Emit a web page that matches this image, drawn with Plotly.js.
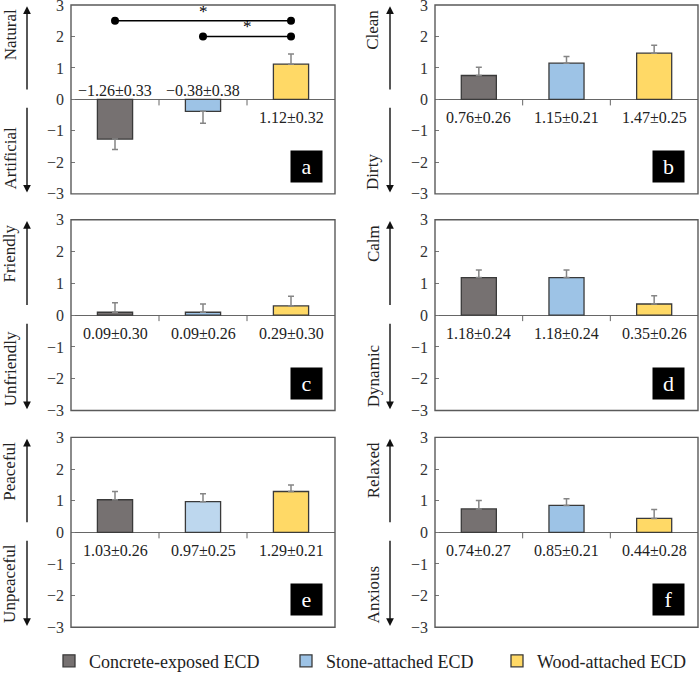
<!DOCTYPE html>
<html>
<head>
<meta charset="utf-8">
<script src="https://cdn.plot.ly/plotly-3.0.1.min.js"></script>
<style>html,body{margin:0;padding:0;background:#fff;}#chart{width:700px;height:680px;}</style>
</head>
<body>
<div id="chart"></div>
<script>
// ---- data ----
var groups = ['Concrete-exposed ECD', 'Stone-attached ECD', 'Wood-attached ECD'];
var panelLetters = ['a', 'b', 'c', 'd', 'e', 'f'];
var posLabels = ['Natural', 'Clean', 'Friendly', 'Calm', 'Peaceful', 'Relaxed'];
var negLabels = ['Artificial', 'Dirty', 'Unfriendly', 'Dynamic', 'Unpeaceful', 'Anxious'];
var concreteMean = [-1.26, 0.76, 0.09, 1.18, 1.03, 0.74];
var concreteSD   = [0.33, 0.26, 0.30, 0.24, 0.26, 0.27];
var stoneMean    = [-0.38, 1.15, 0.09, 1.18, 0.97, 0.85];
var stoneSD      = [0.38, 0.21, 0.26, 0.24, 0.25, 0.21];
var woodMean     = [1.12, 1.47, 0.29, 0.35, 1.29, 0.44];
var woodSD       = [0.32, 0.25, 0.30, 0.26, 0.21, 0.28];
// significance brackets in panel a: [from group index, to group index, height]
var sigFrom   = [0, 1];
var sigTo     = [2, 2];
var sigHeight = [2.5, 2.0];
var sigMark   = ['*', '*'];
var yTickVals = [-3, -2, -1, 0, 1, 2, 3];
var yTickText = ['\u22123', '\u22122', '\u22121', '0', '1', '2', '3'];

// ---- styling ----
var FONT = '"Liberation Serif", "Times New Roman", serif';
var fillColors = ['#767171', '#9DC3E6', '#FFD966'];
var stoneLight = '#BDD7EE';
var legendWidths = [192, 166, 158];
var means = [concreteMean, stoneMean, woodMean];
var sds = [concreteSD, stoneSD, woodSD];

var W = 700, H = 680;
var colX = [[71, 335], [435, 698]];
var rowY = [[5, 195], [221, 413], [440, 631]];
var arrowXpx = [27, 390];

function fmt(v) {
  var s = Math.abs(v).toFixed(2);
  return (v < 0 ? '\u2212' : '') + s;
}

var data = [];
var layout = {
  width: W, height: H,
  margin: {l: 0, r: 0, t: 0, b: 0},
  paper_bgcolor: '#fff', plot_bgcolor: '#fff',
  barmode: 'overlay',
  font: {family: FONT, color: '#222', size: 15},
  showlegend: true,
  legend: {
    orientation: 'h', x: 0.079, xanchor: 'left', y: 0.022, yanchor: 'middle',
    font: {family: FONT, size: 18, color: '#222'},
    traceorder: 'normal', itemclick: false
  },
  annotations: [],
  shapes: []
};

for (var k = 0; k < 6; k++) {
  var col = k % 2, row = Math.floor(k / 2);
  var xid = k === 0 ? 'x' : 'x' + (k + 1);
  var yid = k === 0 ? 'y' : 'y' + (k + 1);
  var xkey = k === 0 ? 'xaxis' : 'xaxis' + (k + 1);
  var ykey = k === 0 ? 'yaxis' : 'yaxis' + (k + 1);
  layout[xkey] = {
    domain: [colX[col][0] / W, colX[col][1] / W],
    anchor: yid, type: 'category', range: [-0.5, 2.5],
    showticklabels: false, showgrid: false, zeroline: false, showline: false,
    ticks: '', fixedrange: true
  };
  layout[ykey] = {
    domain: [1 - rowY[row][1] / H, 1 - rowY[row][0] / H],
    anchor: xid, range: [-3, 3], tickvals: yTickVals, ticktext: yTickText,
    ticks: 'inside', ticklen: 4, tickcolor: '#777', tickwidth: 1,
    showgrid: false, zeroline: true, zerolinecolor: '#666', zerolinewidth: 1.2,
    showline: false, ticklabelstandoff: 6, ticklabeloverflow: 'allow',
    tickfont: {family: FONT, size: 16, color: '#333'}, fixedrange: true
  };
  for (var g = 0; g < 3; g++) {
    var m = means[g][k], s = sds[g][k];
    var color = (g === 1 && k === 4) ? stoneLight : fillColors[g];
    data.push({
      type: 'bar', x: [groups[g]], y: [m], width: 0.4,
      xaxis: xid, yaxis: yid,
      name: groups[g], legendgroup: groups[g], showlegend: k === 0,
      legendwidth: legendWidths[g],
      marker: {color: color, line: {color: '#3a3a3a', width: 1.3}},
      error_y: {
        type: 'data', symmetric: false,
        array: [m >= 0 ? s : 0], arrayminus: [m < 0 ? s : 0],
        color: '#858585', thickness: 1.5, width: 3
      },
      hoverinfo: 'skip'
    });
    layout.annotations.push({
      xref: xid, yref: yid, x: g, y: 0,
      text: fmt(m) + '\u00b1' + s.toFixed(2),
      showarrow: false, yshift: m >= 0 ? -18 : 9,
      font: {family: FONT, size: 16, color: '#222'}
    });
  }
  // frame
  layout.shapes.push({
    type: 'rect', xref: xid + ' domain', yref: yid + ' domain',
    x0: 0, x1: 1, y0: 0, y1: 1, line: {color: '#5a5a5a', width: 1.4}
  });
  // category boundary ticks on the zero line
  [0.5, 1.5].forEach(function (b) {
    layout.shapes.push({
      type: 'line', xref: xid, yref: yid, ysizemode: 'pixel', yanchor: 0,
      x0: b, x1: b, y0: 0, y1: -6, line: {color: '#666', width: 1}
    });
  });
  // side arrows
  var ax = arrowXpx[col] / W;
  layout.annotations.push({
    xref: 'paper', yref: yid, x: ax, y: 2.96, ayref: yid, axref: 'pixel',
    ax: 0, ay: 0.27, text: '', showarrow: true, arrowhead: 2, arrowsize: 1.1,
    arrowwidth: 1.4, arrowcolor: '#111', startstandoff: 0, standoff: 0
  });
  layout.annotations.push({
    xref: 'paper', yref: yid, x: ax, y: -2.96, ayref: yid, axref: 'pixel',
    ax: 0, ay: -0.22, text: '', showarrow: true, arrowhead: 2, arrowsize: 1.1,
    arrowwidth: 1.4, arrowcolor: '#111', startstandoff: 0, standoff: 0
  });
  // side labels
  var lx = (arrowXpx[col] - 17) / W;
  layout.annotations.push({
    xref: 'paper', yref: yid + ' domain', x: lx, y: 0.985, yanchor: 'top',
    xanchor: 'center', textangle: -90, text: posLabels[k], showarrow: false,
    font: {family: FONT, size: 17, color: '#222'}
  });
  layout.annotations.push({
    xref: 'paper', yref: yid + ' domain', x: lx, y: 0.01, yanchor: 'bottom',
    xanchor: 'center', textangle: -90, text: negLabels[k], showarrow: false,
    font: {family: FONT, size: 17, color: '#222'}
  });
  // panel letter box
  layout.annotations.push({
    xref: xid + ' domain', yref: yid + ' domain', x: 1, y: 0,
    xanchor: 'right', yanchor: 'bottom', xshift: col === 0 ? -12 : -13, yshift: 11,
    text: panelLetters[k], showarrow: false, bgcolor: '#000',
    width: 29, height: 29, borderpad: 1, valign: 'middle',
    font: {family: FONT, size: 22, color: '#fff'}
  });
}

// significance brackets (panel a)
for (var i = 0; i < sigFrom.length; i++) {
  data.push({
    type: 'scatter', mode: 'lines+markers', xaxis: 'x', yaxis: 'y',
    x: [groups[sigFrom[i]], groups[sigTo[i]]], y: [sigHeight[i], sigHeight[i]],
    line: {color: '#000', width: 1.4}, marker: {color: '#000', size: 8},
    showlegend: false, hoverinfo: 'skip'
  });
  layout.annotations.push({
    xref: 'x', yref: 'y', x: (sigFrom[i] + sigTo[i]) / 2, y: sigHeight[i],
    yanchor: 'bottom', yshift: -2, text: sigMark[i], showarrow: false,
    font: {family: FONT, size: 17, color: '#000'}
  });
}

Plotly.newPlot('chart', data, layout, {displayModeBar: false, staticPlot: true});
</script>
</body>
</html>
